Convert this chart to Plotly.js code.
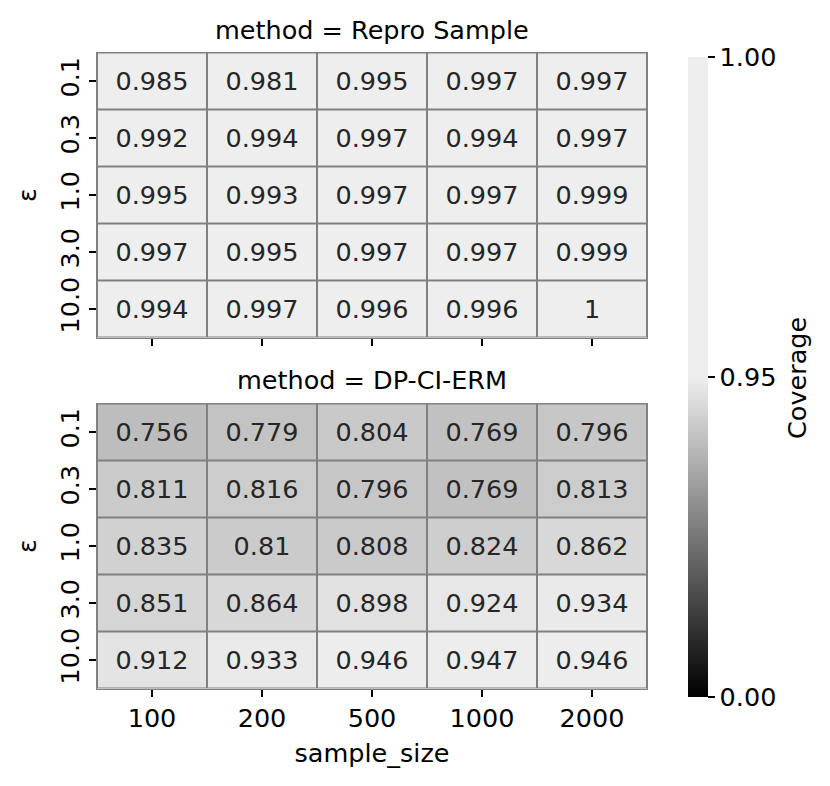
<!DOCTYPE html>
<html>
<head>
<meta charset="utf-8">
<script src="https://cdn.plot.ly/plotly-3.0.1.min.js"></script>
<style>html,body{margin:0;padding:0;background:#fff;}#chart{width:830px;height:786px;}</style>
</head>
<body>
<div id="chart"></div>
<script>
const sampleSizes = ['100', '200', '500', '1000', '2000'];
const epsilons = ['0.1', '0.3', '1.0', '3.0', '10.0'];
const reproSample = [
  [0.985, 0.981, 0.995, 0.997, 0.997],
  [0.992, 0.994, 0.997, 0.994, 0.997],
  [0.995, 0.993, 0.997, 0.997, 0.999],
  [0.997, 0.995, 0.997, 0.997, 0.999],
  [0.994, 0.997, 0.996, 0.996, 1.0]
];
const dpCiErm = [
  [0.756, 0.779, 0.804, 0.769, 0.796],
  [0.811, 0.816, 0.796, 0.769, 0.813],
  [0.835, 0.81, 0.808, 0.824, 0.862],
  [0.851, 0.864, 0.898, 0.924, 0.934],
  [0.912, 0.933, 0.946, 0.947, 0.946]
];
const cbTickValues = [0.0, 0.95, 1.0];
const cbTickLabels = ['0.00', '0.95', '1.00'];
const vcenter = 0.95;

// two-slope norm (0 -> 0, 0.95 -> 0.5, 1 -> 1)
function norm(v) {
  return v <= vcenter ? 0.5 * v / vcenter : 0.5 + 0.5 * (v - vcenter) / (1 - vcenter);
}
function fmt(v) { return String(Number(v.toPrecision(3))); }

const colorscale = [[0, '#000000'], [0.5, '#eeeeee'], [1, '#eeeeee']];
const FONT = 'DejaVu Sans, sans-serif';
const FS = 25.5;

function hm(vals, xa, ya, showscale) {
  return {
    type: 'heatmap',
    x: sampleSizes, y: epsilons,
    z: vals.map(r => r.map(norm)),
    text: vals.map(r => r.map(fmt)),
    texttemplate: '%{text}',
    textfont: {size: FS, color: '#262626', family: FONT},
    zmin: 0, zmax: 1,
    colorscale: colorscale,
    xgap: 2, ygap: 2,
    xaxis: xa, yaxis: ya,
    hoverinfo: 'skip',
    showscale: showscale,
    colorbar: {
      x: 688 / 830, xanchor: 'left', xpad: 0,
      y: (786 - 377) / 786, yanchor: 'middle', ypad: 0,
      thickness: 20, len: 640, lenmode: 'pixels',
      outlinewidth: 0,
      tickmode: 'array',
      tickvals: cbTickValues.map(norm),
      ticktext: cbTickLabels,
      ticks: 'outside', ticklen: 7, tickwidth: 1.5, tickcolor: '#000',
      tickfont: {size: FS, color: '#000', family: FONT}
    }
  };
}

const xd = [97 / 830, 647 / 830];
const axX = (labels, title) => ({
  domain: xd, type: 'category',
  ticks: 'outside', ticklen: 7, tickwidth: 1.5, tickcolor: '#000',
  showticklabels: labels,
  tickfont: {size: FS, color: '#000', family: FONT},
  showline: true, mirror: true, linecolor: '#808080', linewidth: 1,
  showgrid: false, zeroline: false, fixedrange: true,
  title: title ? {text: title, font: {size: FS, color: '#000', family: FONT}, standoff: 12} : {text: ''}
});
const axY = (dom) => ({
  domain: dom, type: 'category', autorange: 'reversed',
  ticks: 'outside', ticklen: 7, tickwidth: 1.5, tickcolor: '#000',
  tickangle: -90,
  tickfont: {size: FS, color: '#000', family: FONT},
  showline: true, mirror: true, linecolor: '#808080', linewidth: 1,
  showgrid: false, zeroline: false, fixedrange: true,
  title: {text: 'ε', font: {size: FS, color: '#000', family: FONT}, standoff: 10}
});

const layout = {
  width: 830, height: 786,
  margin: {l: 0, r: 0, t: 0, b: 0},
  paper_bgcolor: '#ffffff', plot_bgcolor: '#808080',
  font: {family: FONT, size: FS, color: '#000'},
  xaxis: axX(false, ''),
  yaxis: axY([(786 - 337.5) / 786, (786 - 52.5) / 786]),
  xaxis2: Object.assign(axX(true, 'sample_size'), {anchor: 'y2'}),
  yaxis2: Object.assign(axY([(786 - 688.5) / 786, (786 - 403.5) / 786]), {anchor: 'x2'}),
  showlegend: false,
  annotations: [
    {text: 'method = Repro Sample', xref: 'paper', yref: 'paper', x: 372 / 830, y: (786 - 30) / 786,
     xanchor: 'center', yanchor: 'middle', showarrow: false, font: {size: FS, color: '#000', family: FONT}},
    {text: 'method = DP-CI-ERM', xref: 'paper', yref: 'paper', x: 372 / 830, y: (786 - 380) / 786,
     xanchor: 'center', yanchor: 'middle', showarrow: false, font: {size: FS, color: '#000', family: FONT}},
    {text: 'Coverage', xref: 'paper', yref: 'paper', x: 797 / 830, y: (786 - 378) / 786,
     xanchor: 'center', yanchor: 'middle', textangle: -90, showarrow: false, font: {size: FS, color: '#000', family: FONT}}
  ]
};
layout.xaxis.anchor = 'y';
layout.yaxis.anchor = 'x';

const data = [hm(reproSample, 'x', 'y', true), hm(dpCiErm, 'x2', 'y2', false)];
Plotly.newPlot('chart', data, layout, {staticPlot: true, displayModeBar: false});
</script>
</body>
</html>
